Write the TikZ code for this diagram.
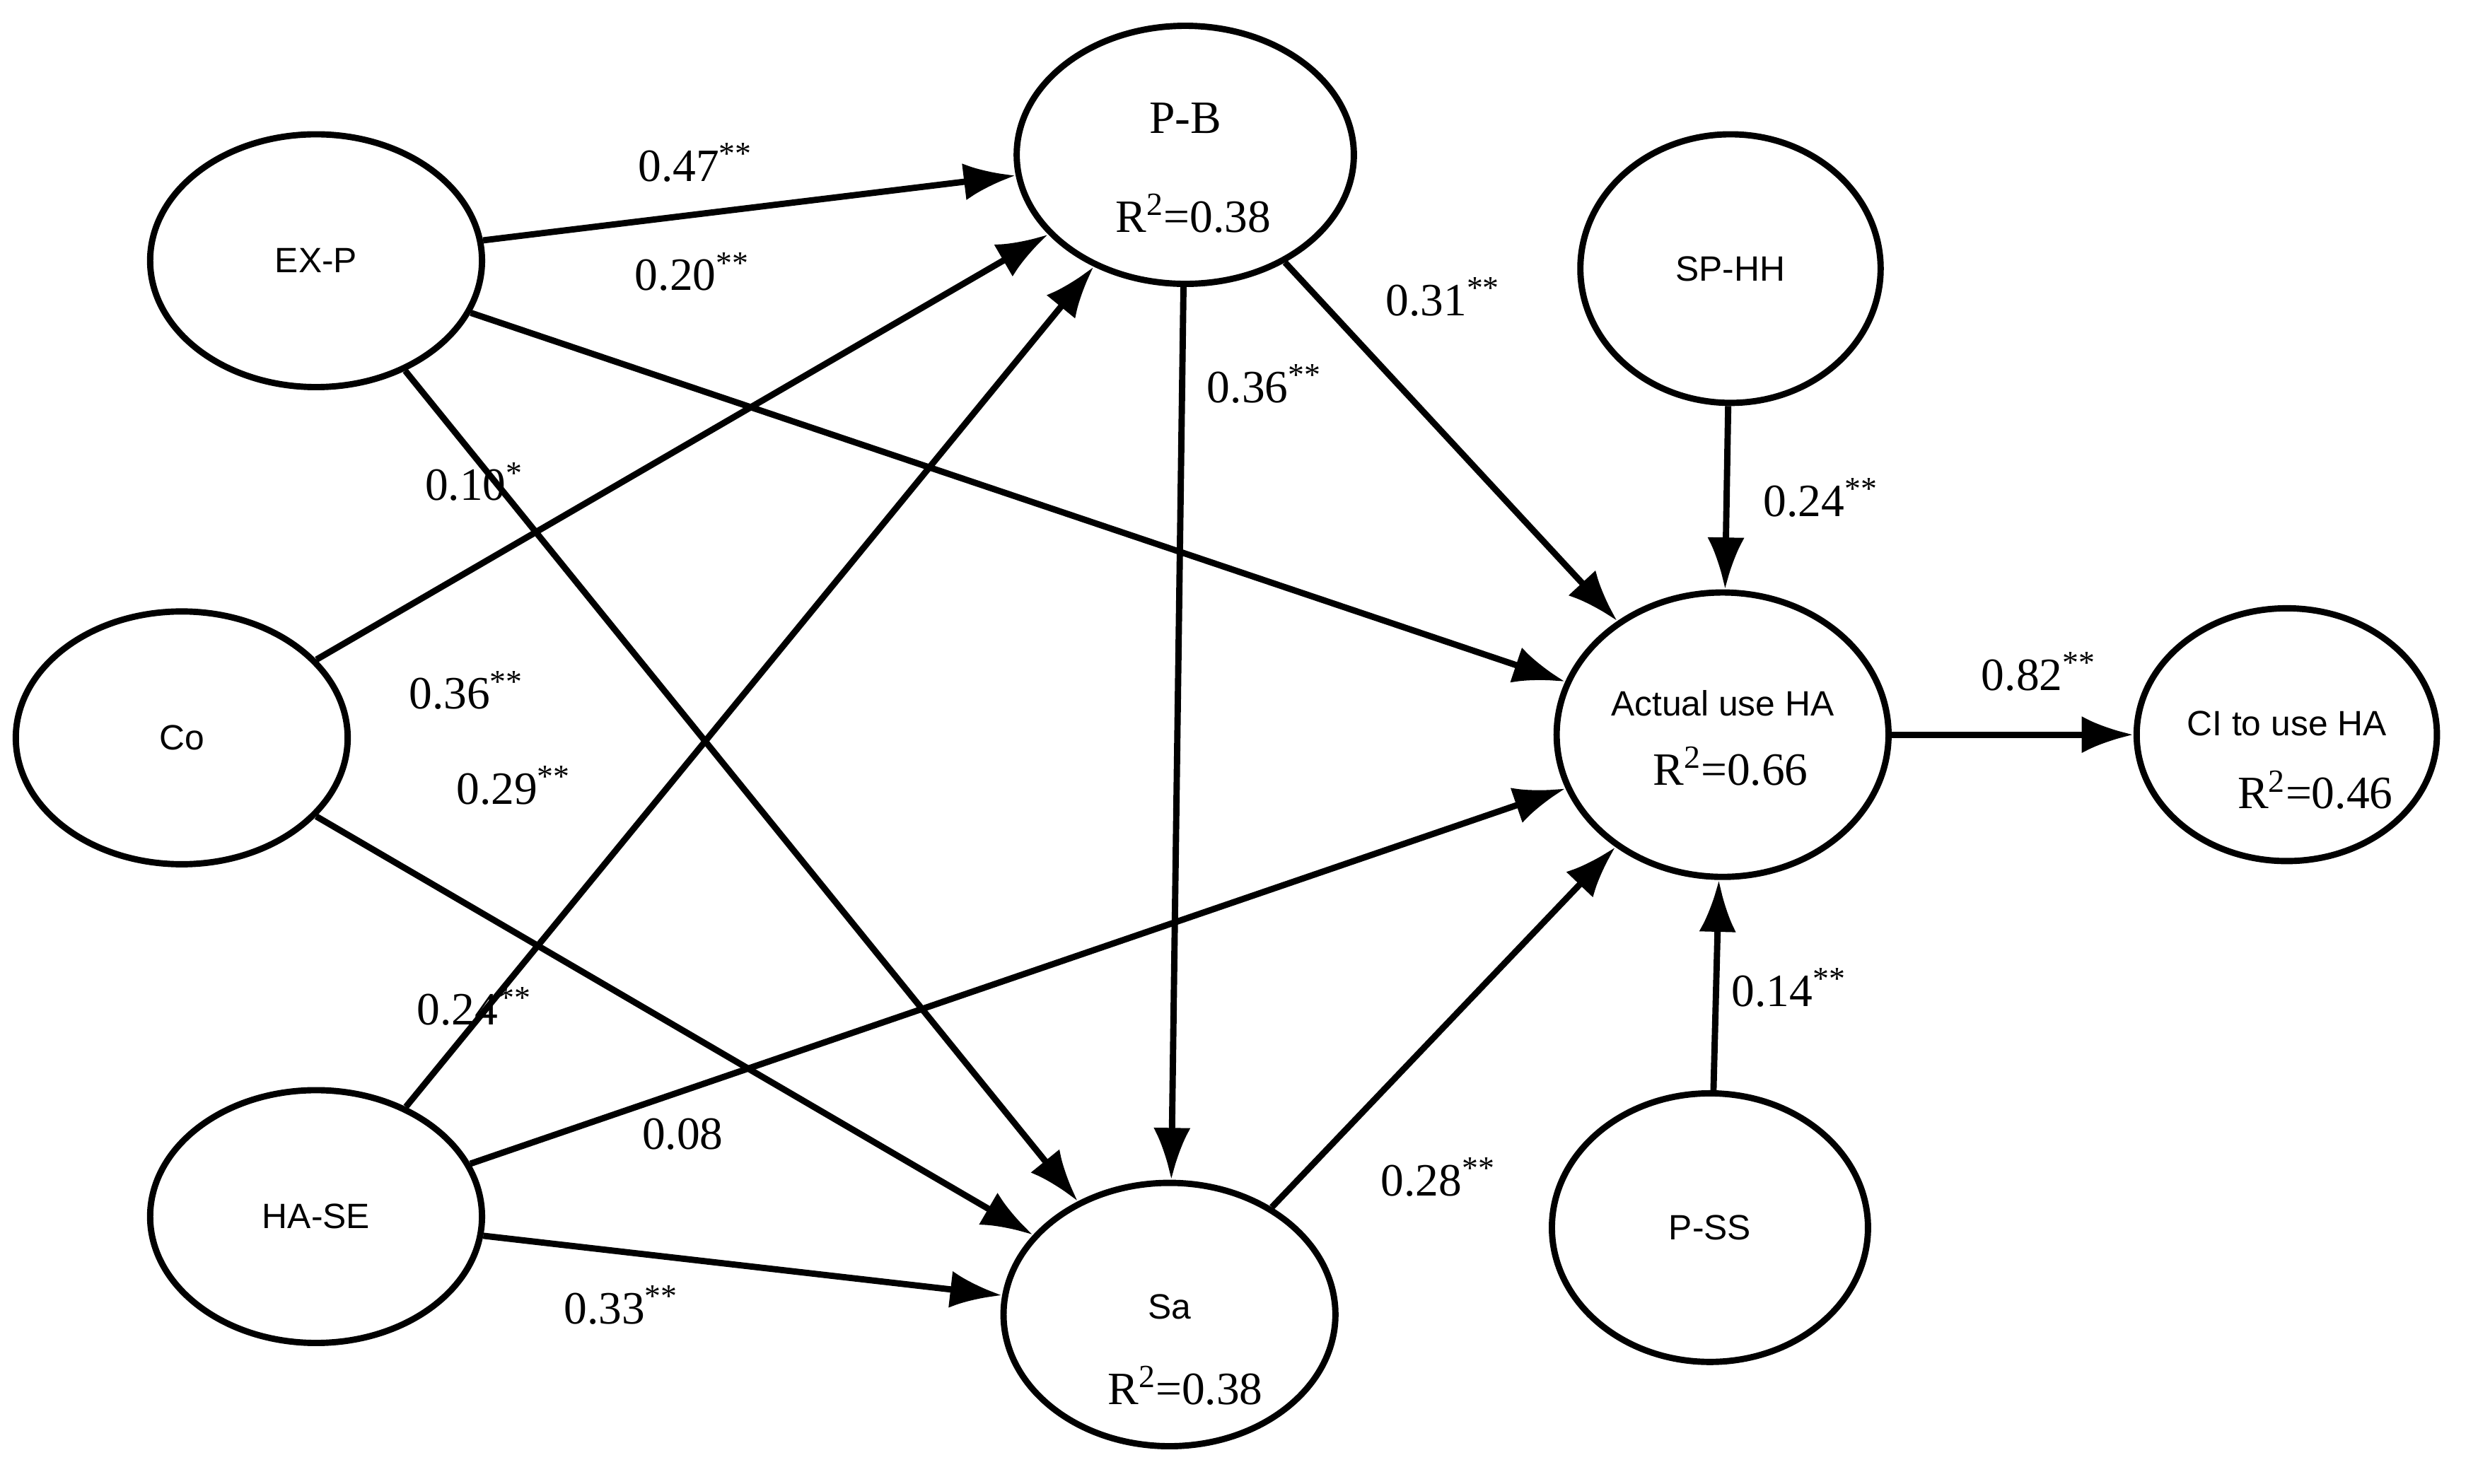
\documentclass[tikz,border=0pt]{standalone}
\usepackage{fontspec}
\setmainfont{Liberation Serif}
\setsansfont{Liberation Sans}
\usetikzlibrary{shapes.geometric,arrows.meta}
\begin{document}
\begin{tikzpicture}[x=0.03cm,y=-0.03cm,
  lv/.style={draw,ellipse,line width=3.4pt,inner sep=0pt},
  ar/.style={line width=3.4pt,-{Latex[length=28pt,width=20pt]}},
  co/.style={font=\fontsize{25}{28}\selectfont},
  nm/.style={font=\sffamily\fontsize{19}{22}\selectfont},
  rr/.style={font=\fontsize{25}{28}\selectfont}]
\useasboundingbox (0,0) rectangle (1568,939);
\node[lv,minimum width=6.3cm,minimum height=4.8cm] (exp) at (200,165) {};
\node[lv,minimum width=6.3cm,minimum height=4.8cm] (co) at (115,467) {};
\node[lv,minimum width=6.3cm,minimum height=4.8cm] (hase) at (200,770) {};
\node[lv,minimum width=6.4cm,minimum height=4.9cm] (pb) at (750,98) {};
\node[lv,minimum width=6.3cm,minimum height=5cm] (sa) at (740,832) {};
\node[lv,minimum width=5.7cm,minimum height=5.1cm] (sphh) at (1095,170) {};
\node[lv,minimum width=6.3cm,minimum height=5.4cm] (act) at (1090,465) {};
\node[lv,minimum width=6cm,minimum height=5.1cm] (pss) at (1082,777) {};
\node[lv,minimum width=5.7cm,minimum height=4.8cm] (ci) at (1447,465) {};
\node[nm] (t1) at (200,165) {EX-P};
\node[nm] (t2) at (115,467) {Co};
\node[nm] (t3) at (200,770) {HA-SE};
\node[rr] (t4) at (750,75) {P-B};
\node[rr] (r4) at (755,135) {R\textsuperscript{2}=0.38};
\node[nm] (t5) at (740,827) {Sa};
\node[rr] (r5) at (750,877) {R\textsuperscript{2}=0.38};
\node[nm] (t6) at (1095,170) {SP-HH};
\node[nm] (t7) at (1090,445) {Actual use HA};
\node[rr] (r7) at (1095,485) {R\textsuperscript{2}=0.66};
\node[nm] (t8) at (1082,777) {P-SS};
\node[nm] (t9) at (1447,458) {CI to use HA};
\node[rr] (r9) at (1465,500) {R\textsuperscript{2}=0.46};
\draw[ar] (exp) -- (pb);
\draw[ar] (exp) -- (act);
\draw[ar] (exp) -- (sa);
\draw[ar] (co) -- (pb);
\draw[ar] (co) -- (sa);
\draw[ar] (hase) -- (pb);
\draw[ar] (hase) -- (act);
\draw[ar] (hase) -- (sa);
\draw[ar] (pb) -- (sa);
\draw[ar] (pb) -- (act);
\draw[ar] (sphh) -- (act);
\draw[ar] (pss) -- (act);
\draw[ar] (sa) -- (act);
\draw[ar] (act) -- (ci);
\node[co] (c1) at (440,103) {0.47\textsuperscript{**}};
\node[co] (c2) at (438,172) {0.20\textsuperscript{**}};
\node[co] (c3) at (300,305) {0.10\textsuperscript{*}};
\node[co] (c4) at (295,437) {0.36\textsuperscript{**}};
\node[co] (c5) at (325,497) {0.29\textsuperscript{**}};
\node[co] (c6) at (300,637) {0.24\textsuperscript{**}};
\node[co] (c7) at (432,718) {0.08};
\node[co] (c8) at (393,826) {0.33\textsuperscript{**}};
\node[co] (c9) at (800,243) {0.36\textsuperscript{**}};
\node[co] (c10) at (913,188) {0.31\textsuperscript{**}};
\node[co] (c11) at (1152,315) {0.24\textsuperscript{**}};
\node[co] (c12) at (1132,625) {0.14\textsuperscript{**}};
\node[co] (c13) at (910,745) {0.28\textsuperscript{**}};
\node[co] (c14) at (1290,425) {0.82\textsuperscript{**}};
\end{tikzpicture}
\end{document}
